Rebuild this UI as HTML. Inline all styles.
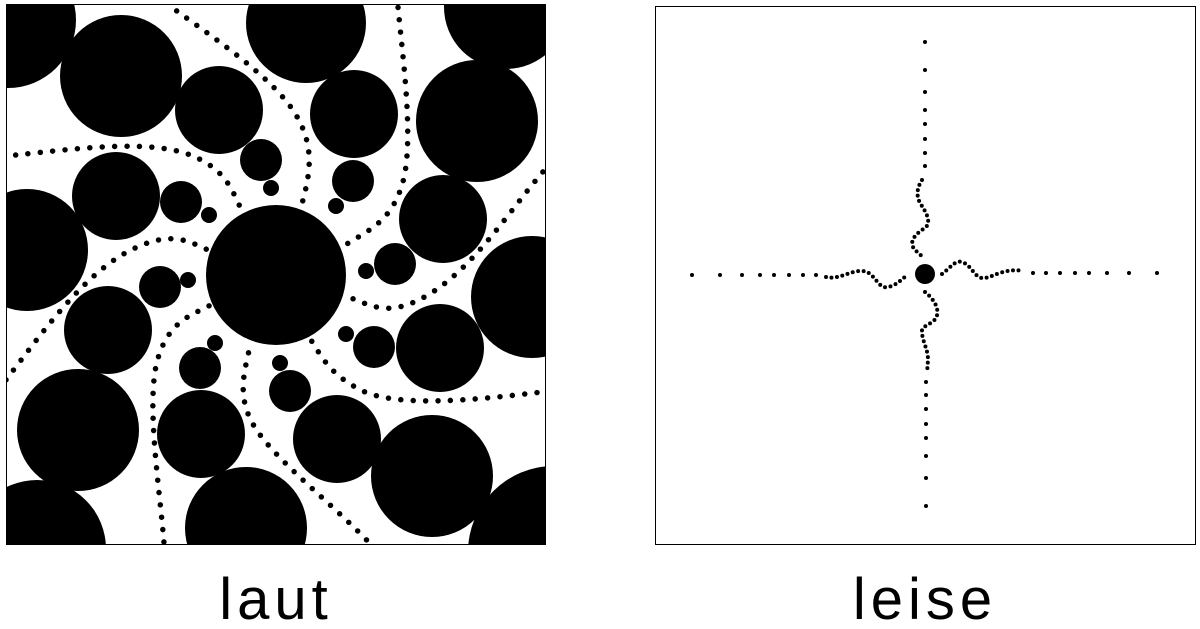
<!DOCTYPE html>
<html><head><style>
html,body{margin:0;padding:0;background:#fff;}
svg{display:block;}
</style></head><body>
<svg width="1200" height="629" viewBox="0 0 1200 629" xmlns="http://www.w3.org/2000/svg">
<defs><clipPath id="c"><rect x="6" y="4" width="540" height="541"/></clipPath></defs>
<g clip-path="url(#c)" fill="#000">
<circle cx="276" cy="275" r="70"/>
<circle cx="121" cy="76" r="61"/>
<circle cx="219" cy="110" r="44"/>
<circle cx="306" cy="23" r="60"/>
<circle cx="354" cy="114" r="44"/>
<circle cx="477" cy="121" r="61"/>
<circle cx="506" cy="7" r="62"/>
<circle cx="8" cy="20" r="68"/>
<circle cx="261" cy="160" r="21"/>
<circle cx="271" cy="188" r="8"/>
<circle cx="353" cy="181" r="21"/>
<circle cx="336" cy="206" r="8"/>
<circle cx="116" cy="196" r="44"/>
<circle cx="181" cy="202" r="21"/>
<circle cx="209" cy="215" r="8"/>
<circle cx="27" cy="250" r="61"/>
<circle cx="443" cy="219" r="44"/>
<circle cx="395" cy="264" r="21"/>
<circle cx="366" cy="271" r="8"/>
<circle cx="160" cy="287" r="21"/>
<circle cx="188" cy="280" r="8"/>
<circle cx="532" cy="297" r="61"/>
<circle cx="108" cy="330" r="44"/>
<circle cx="440" cy="348" r="44"/>
<circle cx="374" cy="347" r="21"/>
<circle cx="346" cy="334" r="8"/>
<circle cx="215" cy="343" r="8"/>
<circle cx="200" cy="368" r="21"/>
<circle cx="280" cy="363" r="8"/>
<circle cx="290" cy="391" r="21"/>
<circle cx="78" cy="430" r="61"/>
<circle cx="201" cy="434" r="44"/>
<circle cx="337" cy="439" r="44"/>
<circle cx="432" cy="476" r="61"/>
<circle cx="246" cy="528" r="61"/>
<circle cx="37" cy="549" r="69"/>
<circle cx="554" cy="552" r="86"/>
<g transform="translate(6,4) scale(0.3448)" fill="none" stroke="#000" stroke-width="16" stroke-linecap="round" stroke-dasharray="0 36">
<path d="M28,438 C200,420 420,390 540,440 S660,570 690,605"/>
<path d="M495,20 C620,110 780,220 840,320 S880,500 855,592"/>
<path d="M1137,10 C1150,150 1185,400 1150,520 S1040,660 975,705"/>
<path d="M1557,487 C1460,600 1360,760 1230,840 S1050,865 985,848"/>
<path d="M1540,1127 C1350,1150 1130,1170 1030,1120 S910,1010 880,968"/>
<path d="M1070,1580 C960,1460 800,1340 730,1240 S695,1060 710,980"/>
<path d="M458,1560 C445,1400 405,1150 440,1030 S550,900 598,870"/>
<path d="M0,1090 C100,960 220,790 350,720 S530,690 590,715"/>
</g>
</g>
<rect x="6.5" y="4.5" width="539" height="540" fill="none" stroke="#000" stroke-width="1"/>
<rect x="655.5" y="6.5" width="540" height="538" fill="none" stroke="#000" stroke-width="1"/>
<circle cx="925" cy="274" r="10" fill="#000"/>
<g fill="#000">
<circle cx="925" cy="42" r="2"/><circle cx="925" cy="70" r="2"/><circle cx="925" cy="92" r="2"/><circle cx="925" cy="110" r="2"/><circle cx="925" cy="124" r="2"/><circle cx="925" cy="139" r="2"/><circle cx="925" cy="153" r="2"/><circle cx="925" cy="166" r="2"/>
<circle cx="926" cy="382" r="2"/><circle cx="926" cy="395" r="2"/><circle cx="926" cy="409" r="2"/><circle cx="926" cy="424" r="2"/><circle cx="926" cy="438" r="2"/><circle cx="926" cy="456" r="2"/><circle cx="926" cy="478" r="2"/><circle cx="926" cy="506" r="2"/>
<circle cx="692" cy="275" r="2"/><circle cx="720" cy="275" r="2"/><circle cx="742" cy="275" r="2"/><circle cx="760" cy="275" r="2"/><circle cx="774" cy="275" r="2"/><circle cx="789" cy="275" r="2"/><circle cx="803" cy="275" r="2"/><circle cx="816" cy="275" r="2"/>
<circle cx="1033" cy="273" r="2"/><circle cx="1046" cy="273" r="2"/><circle cx="1060" cy="273" r="2"/><circle cx="1075" cy="273" r="2"/><circle cx="1089" cy="273" r="2"/><circle cx="1107" cy="273" r="2"/><circle cx="1129" cy="273" r="2"/><circle cx="1157" cy="273" r="2"/>
</g>
<g fill="none" stroke="#000" stroke-width="4" stroke-linecap="round">
<path stroke-dasharray="0 5.5" d="M922,180 C917,188 916,195 920,203 C926,212 932,222 925,228 C915,234 908,242 915,250 L924,258"/>
<path stroke-dasharray="0 5.5" d="M925,292 C935,300 940,310 936,318 C932,325 920,325 922,334 C924,345 928,350 928,360 L927,373"/>
<path stroke-dasharray="0 5.5" d="M826,277 C840,280 850,270 863,271 C875,272 878,290 888,287 C898,285 902,278 908,275"/>
<path stroke-dasharray="0 5.5" d="M942,274 C950,268 955,260 962,262 C972,265 975,280 985,278 C995,276 1005,268 1024,271"/>
</g>
<text x="276" y="619" text-anchor="middle" font-family="Liberation Sans, sans-serif" font-size="58" letter-spacing="5">laut</text>
<text x="925" y="619" text-anchor="middle" font-family="Liberation Sans, sans-serif" font-size="58" letter-spacing="5">leise</text>
</svg>
</body></html>
